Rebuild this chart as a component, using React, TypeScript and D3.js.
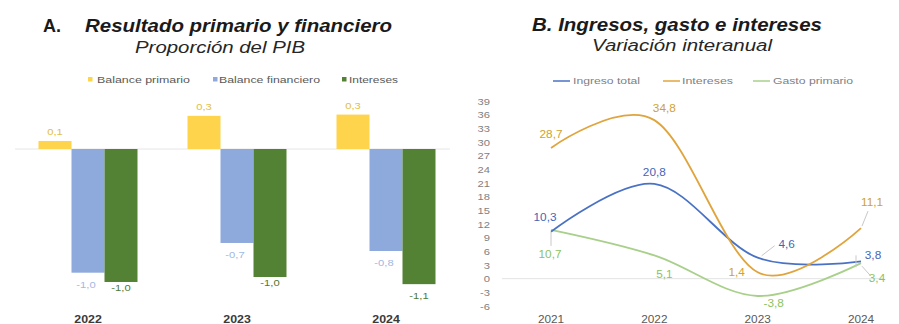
import React from "react";
import * as d3 from "d3";

// Panel A: balances as share of GDP
const barYears = ["2022", "2023", "2024"];
const balancePrimario = [0.063, 0.26, 0.27];
const balanceFinanciero = [-0.97, -0.737, -0.8];
const intereses = [-1.043, -1.004, -1.06];
const barSeries = ["Balance primario", "Balance financiero", "Intereses"];

// Panel B: year-on-year change
const lineYears = ["2021", "2022", "2023", "2024"];
const ingresoTotal = [10.3, 20.8, 4.6, 3.8];
const interesesVar = [28.7, 34.8, 1.4, 11.1];
const gastoPrimario = [10.7, 5.1, -3.8, 3.4];
const lineSeries = ["Ingreso total", "Intereses", "Gasto primario"];
const yTicks = [39, 36, 33, 30, 27, 24, 21, 18, 15, 12, 9, 6, 3, 0, -3, -6];

const FONT = "'Liberation Sans', Arial, sans-serif";
const BAR_COLORS = ["#FFD44D", "#8EA9DB", "#548235"];
const BAR_LABEL_COLORS = ["#E2BE45", "#A3B8E2", "#4E7A30"];
const LINE_COLORS = ["#4A72C4", "#E0A43C", "#A8D08A"];
const LINE_LABEL_COLORS = ["#3F66B8", "#CFA22E", "#8CC35E"];

const fmt = (v: number) => d3.format(".1f")(v).replace(".", ",").replace("−", "-");

function T(props: {
  x: number; y: number; text: string; size?: number; fill?: string;
  anchor?: "start" | "middle" | "end"; sx?: number; weight?: string | number; style?: string;
}) {
  const { x, y, text, size = 10, fill = "#595959", anchor = "middle", sx = 1.18, weight = "normal", style = "normal" } = props;
  return (
    <text
      transform={`translate(${x},${y}) scale(${sx},1)`}
      textAnchor={anchor}
      fontSize={size}
      fill={fill}
      fontWeight={weight}
      fontStyle={style}
      fontFamily={FONT}
    >
      {text}
    </text>
  );
}

function PanelA() {
  const x = d3.scaleBand().domain(barYears).range([13.5, 460.5]);
  const y = d3.scaleLinear().domain([-1.2, 0.3]).range([149 + 1.2 * 127.5, 149 - 0.3 * 127.5]);
  const bw = 33;
  const series = [balancePrimario, balanceFinanciero, intereses];
  const y0 = y(0);

  return (
    <g>
      <text x={43} y={32} fontSize={18} fontWeight="bold" fontFamily={FONT} fill="#1a1a1a">A.</text>
      <text x={85} y={32} fontSize={18} fontWeight="bold" fontStyle="italic" fontFamily={FONT} fill="#1a1a1a"
        textLength={307} lengthAdjust="spacingAndGlyphs">Resultado primario y financiero</text>
      <text x={135} y={53} fontSize={16} fontStyle="italic" fontFamily={FONT} fill="#262626"
        textLength={170} lengthAdjust="spacingAndGlyphs">Proporción del PIB</text>

      {/* legend */}
      {[
        { mx: 88, tx: 97, len: 93 },
        { mx: 213, tx: 219, len: 101 },
        { mx: 342, tx: 349, len: 49 },
      ].map((l, i) => (
        <g key={i}>
          <rect x={l.mx} y={77} width={4.5} height={4.5} fill={BAR_COLORS[i]} />
          <text x={l.tx} y={83} fontSize={9.5} fontFamily={FONT} fill="#595959"
            textLength={l.len} lengthAdjust="spacingAndGlyphs">{barSeries[i]}</text>
        </g>
      ))}

      {/* zero line */}
      <line x1={15} x2={450} y1={y0} y2={y0} stroke="#E6E6E6" strokeWidth={1} />

      {barYears.map((yr, j) => {
        const c = (x(yr) as number) + x.bandwidth() / 2;
        return (
          <g key={yr}>
            {series.map((s, i) => {
              const v = s[j];
              const bx = c - bw * 1.5 + i * bw;
              const top = Math.min(y(v), y0);
              const h = Math.abs(y(v) - y0);
              return <rect key={i} x={bx} y={top} width={bw} height={h} fill={BAR_COLORS[i]} />;
            })}
            <T x={c} y={323} text={yr} size={10.5} fill="#3a3a3a" weight={600} />
          </g>
        );
      })}

      {/* value labels */}
      {barYears.map((yr, j) => {
        const c = (x(yr) as number) + x.bandwidth() / 2;
        const v0 = balancePrimario[j];
        const v1 = balanceFinanciero[j];
        const v2 = intereses[j];
        return (
          <g key={"l" + yr}>
            <T x={c - bw} y={y(v0) - 6} text={fmt(v0)} size={9.5} fill={BAR_LABEL_COLORS[0]} />
            <T x={c - 2} y={y(v1) + 15} text={fmt(v1)} size={9.5} fill={BAR_LABEL_COLORS[1]} />
            <T x={c + bw} y={y(v2) + (j === 2 ? 15 : 9)} text={fmt(v2)} size={9.5} fill={BAR_LABEL_COLORS[2]} />
          </g>
        );
      })}
    </g>
  );
}

function PanelB() {
  const x = d3.scalePoint().domain(lineYears).range([551, 861]);
  const y = d3.scaleLinear().domain([-6, 39]).range([306, 101]);
  const series = [ingresoTotal, interesesVar, gastoPrimario];
  const line = d3
    .line<number>()
    .x((_, i) => x(lineYears[i]) as number)
    .y((d) => y(d))
    .curve(d3.curveCatmullRom.alpha(0));

  const px = (i: number) => x(lineYears[i]) as number;

  // label positions relative to their points
  const labels: { s: number; i: number; dx: number; dy: number; leader?: [number, number, number, number] }[] = [
    { s: 0, i: 0, dx: -6, dy: -14 },
    { s: 0, i: 1, dx: 0, dy: -11 },
    { s: 0, i: 2, dx: 29, dy: -13, leader: [4, -2, 17, -12] },
    { s: 0, i: 3, dx: 12, dy: -6 },
    { s: 1, i: 0, dx: 0, dy: -13 },
    { s: 1, i: 1, dx: 10, dy: -12 },
    { s: 1, i: 2, dx: -21, dy: 0 },
    { s: 1, i: 3, dx: 11, dy: -26, leader: [1, -2, 7, -17] },
    { s: 2, i: 0, dx: -1, dy: 25, leader: [0, 2, 0, 16] },
    { s: 2, i: 1, dx: 10, dy: 19 },
    { s: 2, i: 2, dx: 16, dy: 8 },
    { s: 2, i: 3, dx: 16, dy: 15, leader: [1, 3, 9, 12] },
  ];

  return (
    <g>
      <text x={532} y={31} fontSize={18} fontWeight="bold" fontStyle="italic" fontFamily={FONT} fill="#1a1a1a"
        textLength={290} lengthAdjust="spacingAndGlyphs">B. Ingresos, gasto e intereses</text>
      <text x={592} y={51} fontSize={16} fontStyle="italic" fontFamily={FONT} fill="#262626"
        textLength={180} lengthAdjust="spacingAndGlyphs">Variación interanual</text>

      {/* legend */}
      {[
        { lx: 553, tx: 573, len: 67 },
        { lx: 663, tx: 682, len: 51 },
        { lx: 753, tx: 773, len: 80 },
      ].map((l, i) => (
        <g key={i}>
          <line x1={l.lx} x2={l.lx + 17} y1={81} y2={81} stroke={LINE_COLORS[i]} strokeWidth={1.5} />
          <text x={l.tx} y={84} fontSize={9.5} fontFamily={FONT} fill="#7f7f7f"
            textLength={l.len} lengthAdjust="spacingAndGlyphs">{lineSeries[i]}</text>
        </g>
      ))}

      {/* y axis labels */}
      {yTicks.map((t) => (
        <T key={t} x={490} y={y(t) + 3.5} text={String(t)} size={9.5} fill="#7f7f7f" anchor="end" />
      ))}

      {/* zero line */}
      <line x1={502} x2={884} y1={y(0)} y2={y(0)} stroke="#E3E3E3" strokeWidth={1} />

      {/* x axis labels */}
      {lineYears.map((yr) => (
        <T key={yr} x={x(yr) as number} y={323} text={yr} size={10} fill="#595959" />
      ))}

      {/* series lines: gasto first, then ingreso, intereses on top */}
      {[2, 0, 1].map((s) => (
        <path key={s} d={line(series[s]) || ""} fill="none" stroke={LINE_COLORS[s]} strokeWidth={1.8} />
      ))}

      {/* leaders and labels */}
      {labels.map((l, k) => {
        const v = series[l.s][l.i];
        const cx = px(l.i);
        const cy = y(v);
        return (
          <g key={k}>
            {l.leader && (
              <line x1={cx + l.leader[0]} y1={cy + l.leader[1]} x2={cx + l.leader[2]} y2={cy + l.leader[3]}
                stroke="#C8C8C8" strokeWidth={1} />
            )}
            <T x={cx + l.dx} y={cy + l.dy + 3.5} text={fmt(v)} size={10} fill={LINE_LABEL_COLORS[l.s]} weight={500} />
          </g>
        );
      })}
      {/* bracket at the last point of ingreso / gasto */}
      <line x1={856} x2={856} y1={y(ingresoTotal[3]) - 6} y2={y(gastoPrimario[3]) + 4} stroke="#C8C8C8" strokeWidth={1} />
    </g>
  );
}

export default function App() {
  return (
    <svg width={899} height={324} style={{ display: "block", position: "absolute", left: 0, top: 0, background: "#fff" }}>
      <rect width={899} height={324} fill="#fff" />
      <PanelA />
      <PanelB />
    </svg>
  );
}
